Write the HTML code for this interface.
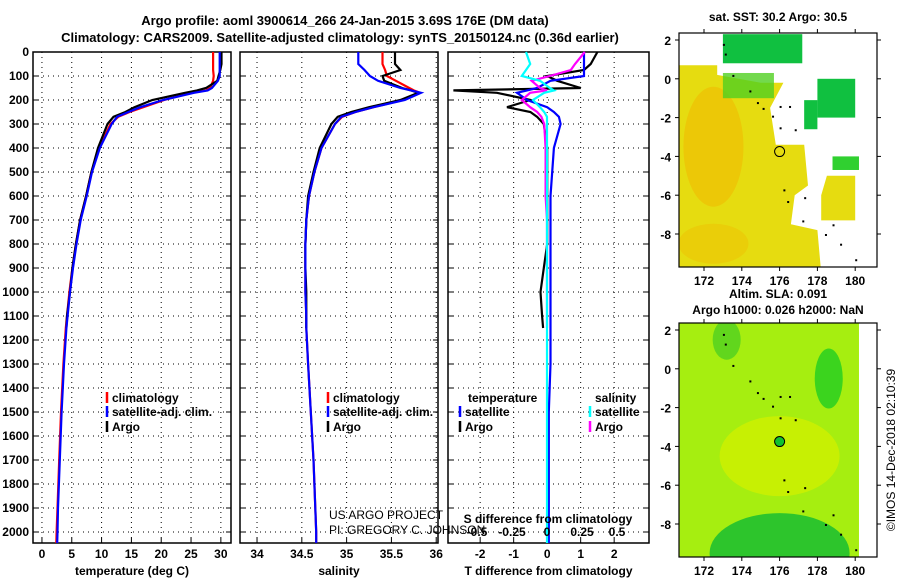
<!DOCTYPE html>
<html><head><meta charset="utf-8"><style>
body{margin:0;background:#fff}
svg{display:block;font-family:"Liberation Sans",sans-serif}
.t{font-weight:bold;font-size:13px}
.tk{font-weight:bold;font-size:12px}
</style></head><body>
<svg id="s" width="900" height="580" viewBox="0 0 900 580" xmlns="http://www.w3.org/2000/svg">
<text x="345" y="25" text-anchor="middle" class="t" font-size="14">Argo profile: aoml 3900614_266 24-Jan-2015 3.69S 176E (DM data)</text>
<text x="340" y="42" text-anchor="middle" class="t" font-size="14">Climatology: CARS2009. Satellite-adjusted climatology: synTS_20150124.nc (0.36d earlier)</text>
<g id="g"></g>
</svg>
<script>
// depth levels
const depth=[0,50,75,100,120,150,160,170,200,230,250,270,300,400,500,600,700,800,900,1000,1100,1150,1300,1500,1700,1900,2000,2050];
const tArgo=[30.1,30.1,29.9,29.6,29.4,27.5,26,24,18.5,15.5,14,12,11,9.4,8.3,7.4,6.4,5.7,5.1,4.7,4.2,4.1,null,null,null,null,null,null];
const tClim=[28.7,28.7,28.7,28.8,28.7,28.2,27.5,25,20.5,17,14.7,12.8,11.5,9.6,8.3,7.4,6.4,5.7,5.1,4.6,4.2,4.0,3.6,3.2,2.9,2.6,2.45,2.4];
const tSat=[29.8,29.8,29.8,29.8,29.5,28.5,27.8,25.5,20.3,16.5,14.5,12.6,11.7,9.7,8.4,7.5,6.5,5.8,5.2,4.7,4.3,4.1,3.7,3.3,3.0,2.7,2.6,2.55];
const sArgo=[35.54,35.54,35.6,35.4,35.42,35.62,35.72,35.8,35.6,35.25,35.05,34.9,34.83,34.7,34.63,34.57,34.55,34.54,34.54,34.55,34.55,34.55,null,null,null,null,null,null];
const sClim=[35.4,35.4,35.43,35.45,35.55,35.7,35.75,35.82,35.62,35.3,35.1,34.95,34.87,34.72,34.64,34.58,34.55,34.54,34.54,34.54,34.55,34.55,34.57,34.6,34.63,34.65,34.66,34.66];
const sSat=[35.13,35.13,35.2,35.26,35.35,35.6,35.72,35.83,35.65,35.3,35.1,34.94,34.87,34.72,34.64,34.58,34.55,34.54,34.54,34.54,34.55,34.55,34.57,34.6,34.63,34.65,34.66,34.66];
const dT=[1.5,1.3,1.1,0,0.3,1.0,-2.8,-1.5,-0.5,-1.2,-0.5,-0.3,-0.1,0,0,0,0,0,-0.1,-0.2,-0.15,-0.12,null,null,null,null,null,null];
const dTsat=[1.1,1.1,1.1,1.1,0.1,-0.3,-0.6,-0.9,-0.6,0,0.2,0.35,0.4,0.2,0.15,0.1,0.1,0.1,0.1,0.1,0.1,0.1,0.1,0.05,0.05,0.05,0.05,0.05];
const dS=[0.27,0.2,0.17,0.02,-0.11,-0.05,0,-0.12,-0.18,-0.12,-0.07,-0.04,-0.02,-0.01,-0.01,-0.01,0,0,0,0,0,0,null,null,null,null,null,null];
const dSsat=[-0.15,-0.12,-0.15,-0.18,-0.05,0.02,0.05,-0.02,-0.1,-0.05,-0.02,0,0,0,0,0,0,0,0,0,0,0,0,0,0,0,0,0];
const depthTicks=[0,100,200,300,400,500,600,700,800,900,1000,1100,1200,1300,1400,1500,1600,1700,1800,1900,2000];
const tTicks=[0,5,10,15,20,25,30];
const sTicks=[34,34.5,35,35.5,36];
const dTTicks=[-2,-1,0,1,2];
const dSTicks=[-0.5,-0.25,0,0.25,0.5];
const latTicks=[2,0,-2,-4,-6,-8];
const lonTicks=[172,174,176,178,180];

const NS="http://www.w3.org/2000/svg";
const G=document.getElementById('g');
function mk(tag,at,parent){const e=document.createElementNS(NS,tag);for(const k in at)e.setAttribute(k,at[k]);(parent||G).appendChild(e);return e;}
const y=d=>52+d*0.24;
const BOT=543;
const panels=[
 {x0:33,x1:231,d0:-1.5,d1:31.7,ticks:tTicks,lab:"temperature (deg C)"},
 {x0:240,x1:438,d0:33.81,d1:36.02,ticks:sTicks,lab:"salinity"},
 {x0:448,x1:649,d0:-2.96,d1:3.04,ticks:dTTicks,lab:"T difference from climatology"}];
panels.forEach((p,i)=>{p.sx=v=>p.x0+(v-p.d0)/(p.d1-p.d0)*(p.x1-p.x0);});
panels.forEach((p,i)=>{
 const fr=mk('rect',{x:p.x0,y:52,width:p.x1-p.x0,height:BOT-52,fill:'none',stroke:'#000','stroke-width':1.5});
 
 
 depthTicks.forEach(d=>{
  if(d>0)mk('line',{x1:p.x0,x2:p.x1,y1:y(d),y2:y(d),stroke:'#000','stroke-dasharray':'1,4'});
  mk('line',{x1:p.x0,x2:p.x0+5,y1:y(d),y2:y(d),stroke:'#000'});
  mk('line',{x1:p.x1-5,x2:p.x1,y1:y(d),y2:y(d),stroke:'#000'});
  if(i==0){const t=mk('text',{x:29,y:y(d)+4,'text-anchor':'end',class:'tk'});t.textContent=d;
   
   }
 });
 p.ticks.forEach(v=>{const X=p.sx(v);
  mk('line',{x1:X,x2:X,y1:52,y2:BOT,stroke:'#000','stroke-dasharray':'1,4'});
  mk('line',{x1:X,x2:X,y1:BOT,y2:BOT-5,stroke:'#000'});
  const t=mk('text',{x:X,y:558,'text-anchor':'middle',class:'tk'});t.textContent=v;
  
  });
 const l=mk('text',{x:(p.x0+p.x1)/2,y:575,'text-anchor':'middle',class:'tk'});l.textContent=p.lab;
 
 
});
const sS=v=>547+v*140;
function line(vals,sx,col,name){let d='';let pen=false;
 vals.forEach((v,k)=>{if(v==null){pen=false;return;}d+=(pen?'L':'M')+sx(v).toFixed(1)+','+Math.min(BOT,y(depth[k])).toFixed(1);pen=true;});
 const e=mk('path',{d:d,fill:'none',stroke:col,'stroke-width':2.2});
 
 }
line(tClim,panels[0].sx,'#f00','temp-climatology-line');
line(tArgo,panels[0].sx,'#000','temp-argo-line');
line(tSat,panels[0].sx,'#00f','temp-satellite-line');
line(sClim,panels[1].sx,'#f00','sal-climatology-line');
line(sArgo,panels[1].sx,'#000','sal-argo-line');
line(sSat,panels[1].sx,'#00f','sal-satellite-line');
line(dT,panels[2].sx,'#000','tdiff-argo-line');
line(dTsat,panels[2].sx,'#00f','tdiff-satellite-line');
line(dS,sS,'#f0f','sdiff-argo-line');
line(dSsat,sS,'#0ff','sdiff-satellite-line');
dSTicks.forEach(v=>{const t=mk('text',{x:sS(v),y:536,'text-anchor':'middle',class:'tk'});t.textContent=v;
 
 });
function txt(x,yy,s,name,extra){const t=mk('text',Object.assign({x:x,y:yy,class:'tk'},extra||{}));t.textContent=s;
 
 return t;}
txt(548,523,'S difference from climatology','sdiff-axis-title',{'text-anchor':'middle'});
txt(329,519,'US ARGO PROJECT','credit-project',{style:'font-weight:normal;font-size:12px'});
txt(329,534,'PI: GREGORY C. JOHNSON','credit-pi',{style:'font-weight:normal;font-size:12px'});
function leg(x,yy,col,s,name){mk('line',{x1:x,x2:x,y1:yy-10,y2:yy+1,stroke:col,'stroke-width':2.5});txt(x+5,yy,s,name);}
leg(107,402,'#f00','climatology','legend-climatology');
leg(107,416,'#00f','satellite-adj. clim.','legend-satellite');
leg(107,431,'#000','Argo','legend-argo');
leg(328,402,'#f00','climatology','legend-climatology-2');
leg(328,416,'#00f','satellite-adj. clim.','legend-satellite-2');
leg(328,431,'#000','Argo','legend-argo-2');
txt(468,402,'temperature','legend-temp-header');
leg(460,416,'#00f','satellite','legend-tsat');
leg(460,431,'#000','Argo','legend-targo');
txt(595,402,'salinity','legend-sal-header');
leg(590,416,'#0ff','satellite','legend-ssat');
leg(590,431,'#f0f','Argo','legend-sargo');

// maps
function map(top,lat2y,latm8y,title1,title2,kind){
 const X=lon=>704+(lon-172)*18.9;
 const Y=lat=>lat2y+(2-lat)*(latm8y-lat2y)/10;
 const x0=679,x1=877,y0=top,y1=top+234;
 const g=mk('g',{});
 
 
 const cp=mk('clipPath',{id:'c'+kind},g);mk('rect',{x:x0,y:y0,width:x1-x0,height:y1-y0},cp);
 const inner=mk('g',{'clip-path':'url(#c'+kind+')'},g);
 if(kind==='sst'){
  const pt=a=>a.map(q=>X(q[0]).toFixed(1)+','+Y(q[1]).toFixed(1)).join(' ');
  mk('polygon',{points:pt([[170.5,0.7],[172.7,0.7],[172.7,0.2],[175,-0.2],[176.2,-0.2],[175.5,-1.5],[175.8,-3.4],[177.3,-3.4],[177.5,-5.5],[176.8,-6],[176.6,-7.5],[178,-7.8],[178.2,-10],[170.5,-10]]),fill:'#e6dc10'},inner);
  mk('ellipse',{cx:X(172.5),cy:Y(-3.5),rx:30,ry:60,fill:'#f0b800',opacity:0.55},inner);
  mk('ellipse',{cx:X(172.5),cy:Y(-8.5),rx:35,ry:20,fill:'#f0b800',opacity:0.4},inner);
  mk('polygon',{points:pt([[178.5,-5],[180,-5],[180,-7.3],[178.2,-7.3],[178.2,-6]]),fill:'#e6dc10'},inner);
  mk('rect',{x:X(173),y:Y(2.3),width:X(177.2)-X(173),height:Y(0.8)-Y(2.3),fill:'#10c040'},inner);
  mk('rect',{x:X(173),y:Y(0.3),width:X(175.7)-X(173),height:Y(-1)-Y(0.3),fill:'#50d020',opacity:0.8},inner);
  mk('rect',{x:X(178),y:Y(0),width:X(180)-X(178),height:Y(-2)-Y(0),fill:'#10c040'},inner);
  mk('rect',{x:X(177.3),y:Y(-1.1),width:X(178)-X(177.3),height:Y(-2.6)-Y(-1.1),fill:'#10c040'},inner);
  mk('rect',{x:X(178.8),y:Y(-4),width:X(180.2)-X(178.8),height:Y(-4.7)-Y(-4),fill:'#30d030'},inner);
 } else {
  mk('rect',{x:x0,y:y0,width:X(180.2)-x0,height:y1-y0,fill:'#a6ee10'},inner);
  mk('ellipse',{cx:X(176),cy:Y(-4.5),rx:60,ry:40,fill:'#d0f000',opacity:0.8},inner);
  mk('ellipse',{cx:X(176),cy:Y(-9.5),rx:70,ry:40,fill:'#20c030',opacity:0.9},inner);
  mk('ellipse',{cx:X(178.6),cy:Y(-0.5),rx:14,ry:30,fill:'#30d020',opacity:0.9},inner);
  mk('ellipse',{cx:X(173.2),cy:Y(1.5),rx:14,ry:20,fill:'#50d020',opacity:0.8},inner);
 }
 [[173,1.8],[173.1,1.3],[173.5,0.2],[174.4,-0.6],[174.8,-1.2],[175.1,-1.5],[175.6,-1.9],[176,-1.4],[176.5,-1.4],[176,-2.5],[176.8,-2.6],[176.2,-5.7],[176.4,-6.3],[177.3,-6.1],[177.2,-7.3],[178.4,-8],[178.8,-7.5],[179.2,-8.5],[180,-9.3]].forEach(q=>mk('rect',{x:X(q[0]),y:Y(q[1]),width:2,height:2,fill:'#000'},inner));
 mk('circle',{cx:X(176),cy:Y(-3.75),r:5,fill:kind==='sst'?'none':'#10c030',stroke:'#000'},g);
 mk('rect',{x:x0,y:y0,width:x1-x0,height:y1-y0,fill:'none',stroke:'#000','stroke-width':1.2},g);
 latTicks.forEach(l=>{mk('line',{x1:x0,x2:x0-4,y1:Y(l),y2:Y(l),stroke:'#000'},g);mk('line',{x1:x1,x2:x1+4,y1:Y(l),y2:Y(l),stroke:'#000'},g);
  txt(x0-8,Y(l)+5,l,'map-lat-label',{'text-anchor':'end'});});
 lonTicks.forEach(l=>{mk('line',{x1:X(l),x2:X(l),y1:y0,y2:y0-4,stroke:'#000'},g);mk('line',{x1:X(l),x2:X(l),y1:y1,y2:y1+4,stroke:'#000'},g);
  txt(X(l),y1+18,l,'map-lon-label',{'text-anchor':'middle'});});
 txt(778,top-(title2?25:12),title1,'map-title',{'text-anchor':'middle'});
 if(title2)txt(778,top-9,title2,'map-subtitle',{'text-anchor':'middle'});
}
map(33,40,234,'sat. SST: 30.2 Argo: 30.5',null,'sst');
map(323,330,524,'Altim. SLA: 0.091','Argo h1000: 0.026 h2000: NaN','sla');
txt(0,0,'©IMOS 14-Dec-2018 02:10:39','imos-credit',{'text-anchor':'middle',transform:'translate(895,450) rotate(-90)',style:'font-weight:normal;font-size:12px'});
</script>
</body></html>
